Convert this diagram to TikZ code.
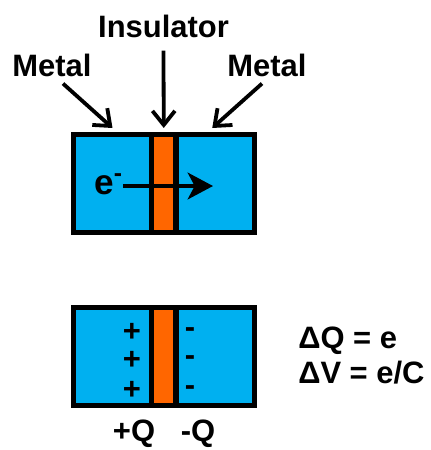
\documentclass[tikz,border=0pt]{standalone}
\usepackage{fontspec}
\setmainfont{Liberation Sans}
\usetikzlibrary{arrows.meta,positioning}
\definecolor{metalblue}{RGB}{0,176,240}
\definecolor{insorange}{RGB}{255,102,0}

\begin{document}
\begin{tikzpicture}[x=0.025cm, y=-0.025cm,
    every node/.style={font=\fontsize{22}{26}\selectfont\bfseries, inner sep=0pt},
    plate/.style={draw=black, line width=3.56pt, minimum height=2.45cm},
    metal/.style={plate, fill=metalblue, minimum width=1.95cm},
    insul/.style={plate, fill=insorange, minimum width=0.6125cm},
    pointer/.style={line width=2.7pt, -{Straight Barb[length=10pt, width=16pt, line width=2.7pt]}},
    flow/.style={line width=2.7pt, -{Stealth[length=18pt, width=19pt, inset=5pt]}}]
    \useasboundingbox (0,0) rectangle (431,450);

    % Condensador arriba: tunel del electron
    \node[metal] (ml1) at (112.5,183.5) {};
    \node[metal, minimum width=1.9625cm] (mr1) at (215.25,183.5) {};
    \node[insul] (in1) at (163.75,183.5) {};

    % Etiquetas y flechas
    \node[anchor=base] (lmetal) at (52,76) {Metal};
    \node[anchor=base] (rmetal) at (267,76) {Metal};
    \node[anchor=base] (inslabel) at (163.5,37) {Insulator};
    \draw[pointer] ([shift={(11,7)}]lmetal.south) -- ([shift={(0,-4)}]ml1.north);
    \draw[pointer] ([shift={(-5,7)}]rmetal.south) -- ([shift={(-3,-4)}]mr1.north);
    \draw[pointer] ([shift={(0,13)}]inslabel.south) -- ([shift={(0,-4)}]in1.north);

    % Electron
    \node[anchor=base west, font=\fontsize{25}{28}\selectfont\bfseries] (elec) at (94,194) {e\textsuperscript{-}};
    \coordinate (etail) at (123,186);
    \coordinate (ehead) at (213,186);
    \draw[flow] (etail) -- (ehead);

    % Condensador abajo: cargas
    \node[metal] (ml2) at (112.5,356.5) {};
    \node[metal, minimum width=1.9625cm] (mr2) at (215.25,356.5) {};
    \node[insul] (in2) at (163.75,356.5) {};
    \foreach \y [count=\i] in {341,369,399} {
        \node[anchor=base] (plus\i) at (132,\y) {+};
        \node[anchor=base] (minus\i) at (190,\y-4) {-};
    }
    \node[anchor=base] (qpos) at (134,441) {+Q};
    \node[anchor=base] (qneg) at (198,441) {-Q};

    % Ecuaciones
    \node[anchor=base west] (dq) at (298,348) {ΔQ = e};
    \node[anchor=base west] (dv) at (298,383) {ΔV = e/C};
\end{tikzpicture}
\end{document}
